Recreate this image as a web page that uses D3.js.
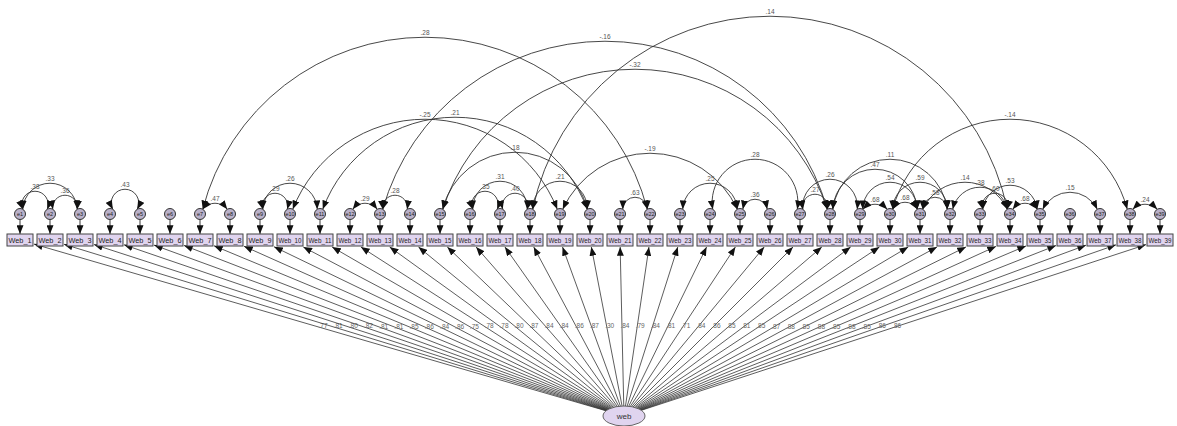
<!DOCTYPE html>
<html>
<head>
<meta charset="utf-8">
<script src="https://cdn.jsdelivr.net/npm/d3@7"></script>
<style>
  html, body { margin: 0; padding: 0; background: #fff; }
  svg { display: block; font-family: "Liberation Sans", Arial, sans-serif; }
</style>
</head>
<body>
<svg id="chart" width="1177" height="426"></svg>
<script>
// Observed indicators of the one-factor model
const indicators = ["Web_1","Web_2","Web_3","Web_4","Web_5","Web_6","Web_7","Web_8","Web_9","Web_10",
  "Web_11","Web_12","Web_13","Web_14","Web_15","Web_16","Web_17","Web_18","Web_19","Web_20",
  "Web_21","Web_22","Web_23","Web_24","Web_25","Web_26","Web_27","Web_28","Web_29","Web_30",
  "Web_31","Web_32","Web_33","Web_34","Web_35","Web_36","Web_37","Web_38","Web_39"];

// Measurement error terms, one per indicator
const errors = ["e1","e2","e3","e4","e5","e6","e7","e8","e9","e10",
  "e11","e12","e13","e14","e15","e16","e17","e18","e19","e20",
  "e21","e22","e23","e24","e25","e26","e27","e28","e29","e30",
  "e31","e32","e33","e34","e35","e36","e37","e38","e39"];

// Standardized loadings web -> Web_i
const loadings = [0.77,0.81,0.80,0.82,0.81,0.81,0.85,0.86,0.84,0.86,
  0.75,0.78,0.78,0.80,0.87,0.84,0.84,0.86,0.87,0.30,
  0.84,0.79,0.84,0.81,0.71,0.84,0.86,0.85,0.81,0.85,
  0.87,0.88,0.85,0.88,0.85,0.88,0.85,0.86,0.86];

// Error covariances (pairs of error numbers) and their correlations
const covPairs = [[1,3],[1,2],[2,3],[4,5],[7,8],[7,22],[9,10],[9,11],[12,13],[13,14],
  [10,19],[11,20],[13,28],[15,28],[18,34],[15,20],[16,18],[16,17],[17,18],[18,20],
  [19,25],[21,22],[23,25],[24,27],[25,26],[27,28],[27,29],[28,32],[28,31],[29,30],
  [30,31],[29,31],[30,32],[31,32],[31,34],[32,34],[33,34],[33,35],[34,35],[35,37],
  [38,39],[30,38]];
const covValues = [0.33,0.38,0.36,0.43,0.47,0.28,0.29,0.26,0.29,0.28,
  -0.25,0.21,-0.16,-0.32,0.14,0.18,0.31,0.35,0.40,0.21,
  -0.19,0.63,0.25,0.28,0.36,0.27,0.26,0.11,0.47,0.68,
  0.68,0.54,0.59,0.58,0.14,0.38,0.60,0.53,0.68,0.15,
  0.24,-0.14];

// Layout: how far each covariance arc rises above its end points (px)
const covLift = [26,18,14,20,6,172,16,26,6,14,
  90,92,168,140,193,57,28,18,16,28,
  56,12,26,50,10,15,30,50,40,5,
  7,27,27,12,27,22,16,24,6,17,
  5,90];

const svg = d3.select("#chart");

const x = d3.scalePoint().domain(indicators).range([20, 1160]);
const errY = 214, errR = 5.5;
const boxY = 240, boxW = 26, boxH = 12;
const latent = { cx: 624, cy: 416, rx: 21, ry: 10 };

// AMOS-style number: no leading zero, plain hyphen for negatives
const fmt = v => (v < 0 ? "-" : "") + d3.format(".2f")(Math.abs(v)).replace(/^0\./, ".");

// arrowhead marker
const defs = svg.append("defs");
defs.append("marker")
  .attr("id", "arrow")
  .attr("viewBox", "0 -4 10 8")
  .attr("refX", 10).attr("refY", 0)
  .attr("markerUnits", "userSpaceOnUse")
  .attr("markerWidth", 9).attr("markerHeight", 7)
  .attr("orient", "auto-start-reverse")
  .append("path")
  .attr("d", "M0,-4L10,0L0,4Z")
  .attr("fill", "#111");

// Loadings: latent -> indicator boxes
const loadG = svg.append("g");
indicators.forEach((name, i) => {
  const bx = x(name);
  const dx = bx - latent.cx, dy = boxY - latent.cy;
  const t = 1 / Math.sqrt((dx / latent.rx) ** 2 + (dy / latent.ry) ** 2);
  const sx = latent.cx + dx * t, sy = latent.cy + dy * t;
  const s = Math.min(dx === 0 ? Infinity : (boxW / 2 + 1) / Math.abs(dx), (boxH / 2 + 1) / Math.abs(dy));
  const ex = bx - dx * s, ey = boxY - dy * s;
  loadG.append("line")
    .attr("x1", sx).attr("y1", sy).attr("x2", ex).attr("y2", ey)
    .attr("stroke", "#333").attr("stroke-width", 0.8)
    .attr("marker-end", "url(#arrow)");
  loadG.append("text")
    .attr("x", (sx + ex) / 2 + 3).attr("y", (sy + ey) / 2 + 1)
    .attr("text-anchor", "middle")
    .attr("font-size", 6.5).attr("fill", "#666")
    .text(fmt(loadings[i]));
});

// Covariance arcs between error terms
const arcG = svg.append("g");
const ang = 30 * Math.PI / 180;
covPairs.forEach(([a, b], k) => {
  const x1 = x(indicators[a - 1]) + errR * Math.sin(ang);
  const x2 = x(indicators[b - 1]) - errR * Math.sin(ang);
  const y0 = errY - errR * Math.cos(ang);
  const half = (x2 - x1) / 2, lift = covLift[k];
  const r = (half * half + lift * lift) / (2 * lift);
  const large = lift > half ? 1 : 0;
  arcG.append("path")
    .attr("d", `M${x1},${y0}A${r},${r} 0 ${large} 1 ${x2},${y0}`)
    .attr("fill", "none").attr("stroke", "#333").attr("stroke-width", 0.9)
    .attr("marker-start", "url(#arrow)").attr("marker-end", "url(#arrow)");
  arcG.append("text")
    .attr("x", (x1 + x2) / 2).attr("y", y0 - lift - 2)
    .attr("text-anchor", "middle")
    .attr("font-size", 6.5).attr("fill", "#555")
    .text(fmt(covValues[k]));
});

// Error circles with arrows to their indicator
const errG = svg.append("g");
errors.forEach((e, i) => {
  const bx = x(indicators[i]);
  errG.append("line")
    .attr("x1", bx).attr("y1", errY + errR)
    .attr("x2", bx).attr("y2", boxY - boxH / 2)
    .attr("stroke", "#222").attr("stroke-width", 0.9)
    .attr("marker-end", "url(#arrow)");
  errG.append("circle")
    .attr("cx", bx).attr("cy", errY).attr("r", errR)
    .attr("fill", "#b9b1c9").attr("stroke", "#333").attr("stroke-width", 1);
  errG.append("text")
    .attr("x", bx).attr("y", errY + 2)
    .attr("text-anchor", "middle")
    .attr("font-size", 5.5).attr("fill", "#222")
    .text(e);
});

// Indicator boxes; long names are condensed to fit inside the box
const boxG = svg.append("g");
const maxText = boxW - 3;
indicators.forEach((name, i) => {
  const bx = x(name);
  boxG.append("rect")
    .attr("x", bx - boxW / 2).attr("y", boxY - boxH / 2)
    .attr("width", boxW).attr("height", boxH)
    .attr("fill", "#e0d4ef").attr("stroke", "#444").attr("stroke-width", 1);
  const label = boxG.append("text")
    .attr("x", bx).attr("y", boxY + 3)
    .attr("text-anchor", "middle")
    .attr("font-size", 8).attr("fill", "#222")
    .text(name);
  if (label.node().getComputedTextLength() > maxText) {
    label.attr("textLength", maxText).attr("lengthAdjust", "spacingAndGlyphs");
  }
});

// Latent factor
svg.append("ellipse")
  .attr("cx", latent.cx).attr("cy", latent.cy)
  .attr("rx", latent.rx).attr("ry", latent.ry)
  .attr("fill", "#e0d4ef").attr("stroke", "#555").attr("stroke-width", 0.9);
svg.append("text")
  .attr("x", latent.cx).attr("y", latent.cy + 3)
  .attr("text-anchor", "middle")
  .attr("font-size", 8).attr("fill", "#333")
  .text("web");
</script>
</body>
</html>
